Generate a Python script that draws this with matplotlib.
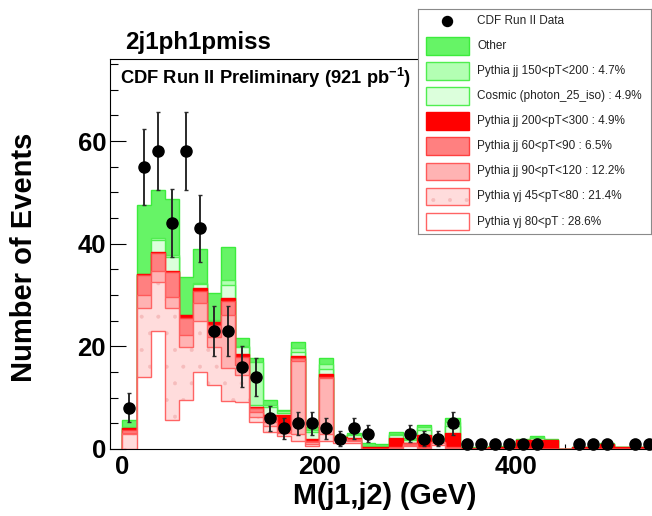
import numpy as np
import matplotlib
matplotlib.use("Agg")
import matplotlib.pyplot as plt
from matplotlib.patches import Rectangle
from matplotlib.ticker import MultipleLocator

plt.rcParams['font.family'] = ['Liberation Sans', 'DejaVu Sans']
plt.rcParams['font.weight'] = 'bold'
plt.rcParams['mathtext.fontset'] = 'custom'
plt.rcParams['mathtext.rm'] = 'Liberation Sans'
plt.rcParams['mathtext.bf'] = 'Liberation Sans:bold'
plt.rcParams['hatch.linewidth'] = 0.4

# --- binning: 70 bins over 0-1000 GeV, first 38 shown
BIN_WIDTH = 1000.0 / 70
N_BINS = 38
edges = np.arange(N_BINS + 1) * BIN_WIDTH
centers = 0.5 * (edges[:-1] + edges[1:])

# observed events per bin
data_counts = [8, 55, 58, 44, 58, 43, 23, 23, 16, 14, 6, 4, 5, 5, 4, 2, 4, 3, 0, 0,
               3, 2, 2, 5, 1, 1, 1, 1, 1, 1, 0, 0, 1, 1, 1, 0, 1, 1]

# MC samples (stack order: bottom first)
gj_80 = [0.0, 14.1, 22.9, 5.7, 9.5, 15.1, 12.5, 9.4, 9.2, 5.3, 3.4, 2.5, 1.5, 0.5, 1.5, 1.2, 1.2, 0.0, 0.0, 0.1,
         0.5, 0.1, 0.8, 0.1, 0, 0, 0, 0, 0, 0, 0, 0, 0, 0, 0, 0, 0, 0]
gj_45_80 = [3.0, 13.4, 9.7, 21.7, 10.4, 9.9, 7.4, 6.3, 5.3, 1.0, 1.0, 0.6, 1.5, 0.5, 1.5, 0.5, 0.4, 0.0, 0.0, 0.1,
            0.3, 0.1, 0.3, 0.1, 0, 0, 0, 0, 0, 0, 0, 0, 0, 0, 0, 0, 0, 0]
jj_90_120 = [0.2, 2.5, 2.0, 2.3, 2.3, 3.4, 2.0, 10.5, 1.8, 1.0, 0.9, 0.3, 14.2, 0.3, 10.8, 0.3, 0.2, 0.0, 0.0, 0.05,
             0.2, 0.05, 0.2, 0.05, 0, 0, 0, 0, 0, 0, 0, 0, 0, 0, 0, 0, 0, 0]
jj_60_90 = [0.5, 4.0, 3.5, 4.7, 3.4, 2.4, 2.3, 2.7, 1.7, 0.6, 1.0, 0.3, 0.5, 0.2, 0.3, 0.2, 0.1, 0.0, 0.0, 0.05,
            0.1, 0.05, 0.1, 0.05, 0, 0, 0, 0, 0, 0, 0, 0, 0, 0, 0, 0, 0, 0]
jj_200_300 = [0.3, 0.2, 0.2, 0.2, 0.5, 0.5, 0.5, 0.5, 0.6, 0.3, 0.4, 2.9, 0.4, 0.5, 0.6, 0.1, 0.2, 0.3, 0.3, 1.8,
              0.1, 2.5, 0.0, 2.75, 0.2, 0.2, 0.3, 0.3, 1.75, 1.75, 1.75, 0.0, 0.3, 0.3, 1.0, 0.3, 0.3, 0.3]
cosmic = [0.1, 0.0, 2.4, 2.8, 0.0, 0.8, 0.3, 2.6, 1.2, 0.3, 1.4, 0.5, 0.9, 1.3, 0.8, 0.1, 0.6, 0.3, 0.2, 0.6,
          0.6, 0.9, 0.0, 1.5, 0, 0, 0, 0, 0, 0.3, 0, 0, 0, 0, 0, 0, 0, 0]
jj_150_200 = [0.1, 0.0, 0.4, 0.4, 0.0, 0.2, 0.2, 0.9, 0.3, 8.5, 0.4, 0.3, 0.6, 0.5, 1.0, 0.05, 0.2, 0.0, 0.0, 0.2,
              0.2, 0.5, 0.0, 0.8, 0, 0, 0, 0, 0, 0.2, 0, 0, 0, 0, 0, 0, 0, 0]
other = [1.4, 13.4, 9.4, 10.9, 7.4, 6.6, 5.2, 6.5, 1.5, 0.7, 1.0, 0.2, 1.3, 0.4, 1.2, 0.05, 0.3, 0.5, 0.5, 0.5,
         0.2, 0.5, 0.0, 0.65, 0.2, 0.2, 0.3, 0.2, 0.2, 0.25, 0.25, 0, 0, 0, 0.2, 0, 0, 0]

# label, values, fill, line, hatch
samples = [
    ("Pythia \u03b3j 80<pT : 28.6%", gj_80, "#ffffff", "#ff6464", None),
    ("Pythia \u03b3j 45<pT<80 : 21.4%", gj_45_80, "#ffdcdc", "#ff6464", "."),
    ("Pythia jj 90<pT<120 : 12.2%", jj_90_120, "#ffb3b3", "#ff5a5a", None),
    ("Pythia jj 60<pT<90 : 6.5%", jj_60_90, "#ff8080", "#ff4040", None),
    ("Pythia jj 200<pT<300 : 4.9%", jj_200_300, "#ff0000", "#ff0000", None),
    ("Cosmic (photon_25_iso) : 4.9%", cosmic, "#dcffdc", "#50ee50", None),
    ("Pythia jj 150<pT<200 : 4.7%", jj_150_200, "#b3ffb3", "#50ee50", None),
    ("Other", other, "#66f466", "#3cec3c", None),
]
DOT_COLOR = "#f6bcbc"

W, H = 652, 516
fig = plt.figure(figsize=(W / 100, H / 100), dpi=100)
ax = fig.add_axes([109.5 / W, 1 - 449 / H, 563.5 / W, 390 / H])

# stacked histogram, drawn from the top of the stack down
stack = np.cumsum([np.asarray(s[1], float) for s in samples], axis=0)
for i in range(len(samples) - 1, -1, -1):
    label, _, fill, line, hatch = samples[i]
    if hatch:
        ax.stairs(stack[i], edges, baseline=0, fill=True, facecolor=fill,
                  edgecolor=DOT_COLOR, linewidth=0, hatch=hatch, zorder=2)
        ax.stairs(stack[i], edges, baseline=0, fill=False, edgecolor=line,
                  linewidth=1.0, zorder=2)
    else:
        ax.stairs(stack[i], edges, baseline=0, fill=True, facecolor=fill,
                  edgecolor=line, linewidth=1.0, zorder=2)

# data points with sqrt(N) errors, empty bins skipped
counts = np.asarray(data_counts, float)
mask = counts > 0
ax.errorbar(centers[mask], counts[mask], yerr=np.sqrt(counts[mask]), fmt="o",
            color="black", ms=8, ecolor="#2a2a2a", elinewidth=1.4,
            capsize=1.6, capthick=1.0, zorder=5, clip_on=False)

ax.set_xlim(-13.2, 560)
ax.set_ylim(0, 76)
ax.xaxis.set_major_locator(MultipleLocator(200))
ax.xaxis.set_minor_locator(MultipleLocator(50))
ax.yaxis.set_major_locator(MultipleLocator(20))
ax.yaxis.set_minor_locator(MultipleLocator(5))
ax.tick_params(axis="x", which="major", direction="in", length=7.5, width=0.8,
               labelsize=18.5, pad=4)
ax.tick_params(axis="x", which="minor", direction="in", length=3.8, width=0.8)
ax.tick_params(axis="y", which="major", direction="in", length=11.5, width=0.8,
               labelsize=18.5, pad=2.5)
ax.tick_params(axis="y", which="minor", direction="in", length=5.8, width=0.8)
for sp in ax.spines.values():
    sp.set_linewidth(0.8)

fig.text(24 / W, 1 - 257.5 / H, "Number of Events", rotation=90,
         ha="center", va="center", fontsize=21)
fig.text(385 / W, 1 - 496.5 / H, "M(j1,j2) (GeV)", ha="center", va="center",
         fontsize=20.7)
fig.text(125 / W, 1 - 49.5 / H, "2j1ph1pmiss", ha="left", va="baseline",
         fontsize=17.4)
fig.text(119.5 / W, 1 - 83.5 / H, r"CDF Run II Preliminary (921 pb$^{\mathbf{-1}}$)",
         ha="left", va="baseline", fontsize=13.2)

# legend box
lax = fig.add_axes([417.5 / W, 1 - 234 / H, 233 / W, 224.7 / H])
lax.set_xlim(0, 233)
lax.set_ylim(224.7, 0)
lax.set_xticks([])
lax.set_yticks([])
for sp in lax.spines.values():
    sp.set_color("#8a8a8a")
    sp.set_linewidth(0.8)

row_y = 11.4 + 25.1 * np.arange(len(samples) + 1)
lax.plot(29.8, row_y[0], "o", color="black", ms=7.2)
lax.text(59.5, row_y[0], "CDF Run II Data", va="center", ha="left",
         fontsize=8.5, fontweight="normal", color="#222222")
for k, (label, _, fill, line, hatch) in enumerate(reversed(samples)):
    y = row_y[k + 1]
    if hatch:
        lax.add_patch(Rectangle((8, y - 8.8), 43.3, 17.6, facecolor=fill,
                                edgecolor=DOT_COLOR, linewidth=0, hatch=hatch))
        lax.add_patch(Rectangle((8, y - 8.8), 43.3, 17.6, fill=False,
                                edgecolor=line, linewidth=1.0))
    else:
        lax.add_patch(Rectangle((8, y - 8.8), 43.3, 17.6, facecolor=fill,
                                edgecolor=line, linewidth=1.0))
    lax.text(59.5, y, label, va="center", ha="left", fontsize=8.5,
             fontweight="normal", color="#222222")

fig.savefig("out.png", dpi=100)
